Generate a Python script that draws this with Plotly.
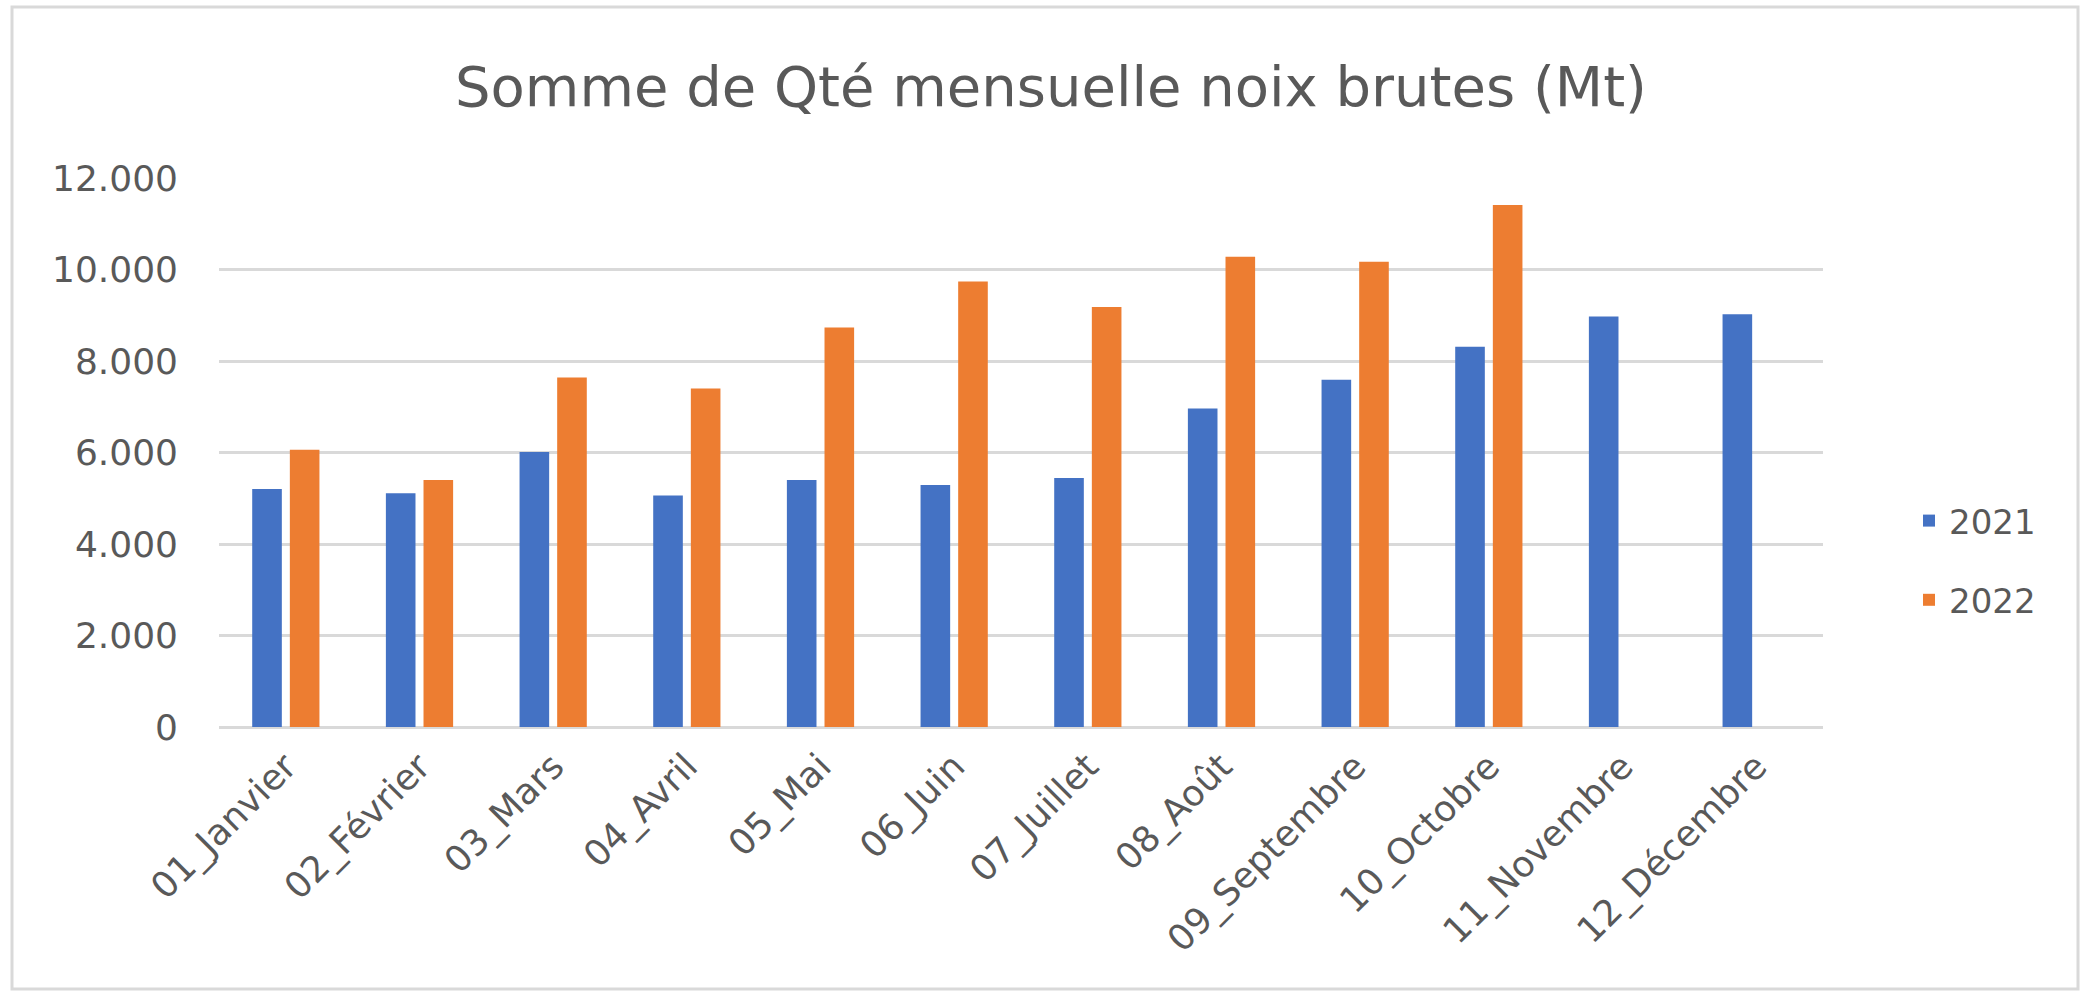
import plotly.graph_objects as go

months = ["01_Janvier", "02_Février", "03_Mars", "04_Avril", "05_Mai", "06_Juin",
          "07_Juillet", "08_Août", "09_Septembre", "10_Octobre", "11_Novembre", "12_Décembre"]
qty_2021 = [5200, 5110, 6010, 5060, 5400, 5290, 5440, 6960, 7590, 8310, 8970, 9020]
qty_2022 = [6060, 5400, 7640, 7400, 8730, 9740, 9180, 10280, 10170, 11410, None, None]
y_ticks = [0, 2000, 4000, 6000, 8000, 10000, 12000]
y_tick_labels = ["0", "2.000", "4.000", "6.000", "8.000", "10.000", "12.000"]

FONT = "DejaVu Sans"
GREY = "#595959"
GRID = "#d9d9d9"

W, H = 2084, 992
L, R, T, B = 219, 261, 178, 265
pw, ph = W - L - R, H - T - B

fig = go.Figure()
fig.add_trace(go.Bar(x=months, y=qty_2021, name="2021", marker_color="#4472C4",
                     marker_line_width=0, legendgroup="a"))
fig.add_trace(go.Bar(x=months, y=qty_2022, name="2022", marker_color="#ED7D31",
                     marker_line_width=0, legendgroup="b"))

fig.update_layout(
    width=W, height=H,
    margin=dict(l=L, r=R, t=T, b=B, autoexpand=False),
    paper_bgcolor="white", plot_bgcolor="white",
    barmode="group", bargap=0.437, bargroupgap=0.213,
    font=dict(family=FONT, color=GREY),
    title=dict(text="Somme de Qté mensuelle noix brutes (Mt)",
               font=dict(family=FONT, size=56, color=GREY),
               x=1051 / W, xanchor="center", xref="container",
               y=1 - 86 / H, yanchor="middle", yref="container"),
    legend=dict(x=(1909 - L) / pw, xanchor="left", y=(727 - 492) / ph, yanchor="top",
                font=dict(family=FONT, size=34, color=GREY),
                traceorder="grouped", tracegroupgap=32, bgcolor="rgba(0,0,0,0)"),
    showlegend=True,
)
fig.update_yaxes(range=[0, 12000], tickvals=y_ticks, ticktext=y_tick_labels,
                 showgrid=True, gridcolor=GRID, gridwidth=2.5,
                 zeroline=True, zerolinecolor=GRID, zerolinewidth=3,
                 showline=False, ticks="", ticklabelstandoff=40,
                 tickfont=dict(family=FONT, size=36, color=GREY))
fig.update_xaxes(tickangle=-45, showgrid=False, showline=False, ticks="",
                 ticklabelstandoff=10,
                 tickfont=dict(family=FONT, size=36, color=GREY))

fig.add_shape(type="rect", xref="paper", yref="paper",
              x0=(12 - L) / pw, x1=(2078 - L) / pw,
              y0=(727 - 989) / ph, y1=(727 - 7) / ph,
              line=dict(color=GRID, width=3), fillcolor="rgba(0,0,0,0)", layer="below")

fig.write_html("out.html", config={"displayModeBar": False},
               post_script="document.body.style.margin='0';")
